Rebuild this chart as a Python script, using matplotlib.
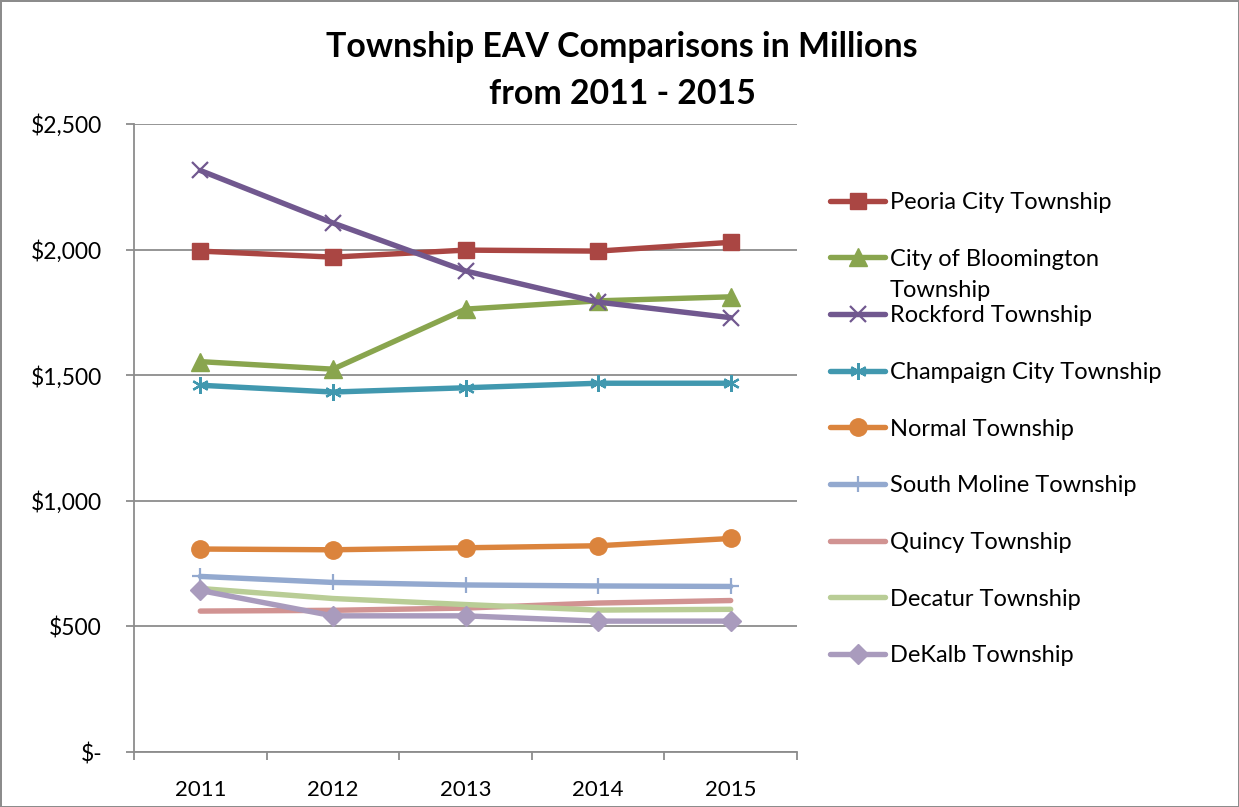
import numpy as np
import matplotlib
matplotlib.use("Agg")
import matplotlib.pyplot as plt
from matplotlib.ticker import FixedLocator, FuncFormatter

plt.rcParams['font.family'] = ['Lato', 'DejaVu Sans']

# Data (values in millions)
years = ['2011', '2012', '2013', '2014', '2015']
peoria = [1994, 1970, 1998, 1994, 2029]
bloomington = [1554, 1524, 1763, 1796, 1812]
rockford = [2315, 2106, 1915, 1791, 1729]
champaign = [1460, 1433, 1450, 1468, 1468]
normal = [808, 805, 813, 821, 850]
south_moline = [699, 675, 665, 661, 659]
quincy = [561, 564, 573, 593, 603]
decatur = [651, 611, 587, 565, 568]
dekalb = [643, 542, 542, 521, 521]

series = [
    ('Peoria City Township', peoria, '#AA4643', 's', 12),
    ('City of Bloomington', bloomington, '#89A54E', '^', 13),
    ('Rockford Township', rockford, '#71588F', 'x', 11),
    ('Champaign City Township', champaign, '#4198AF', (6, 2, 0), 12),
    ('Normal Township', normal, '#DB843D', 'o', 12.5),
    ('South Moline Township', south_moline, '#93A9CF', '+', 12),
    ('Quincy Township', quincy, '#D19392', None, 0),
    ('Decatur Township', decatur, '#B9CD96', None, 0),
    ('DeKalb Township', dekalb, '#A99BBD', 'D', 10),
]

fig = plt.figure(figsize=(12.39, 8.07), dpi=100)
fig.patch.set_edgecolor('#8c8c8c')
fig.patch.set_linewidth(2)
ax = fig.add_axes([134 / 1239, 1 - 752 / 807, (797 - 134) / 1239, (752 - 124) / 807])

x = np.arange(len(years))
for label, vals, color, marker, ms in series:
    kw = dict(color=color, lw=3.9, label=label, solid_joinstyle='round',
              solid_capstyle='round')
    if marker is not None:
        kw.update(marker=marker, markersize=ms, markerfacecolor=color,
                  markeredgecolor=color)
        if marker in ('x', '+') or isinstance(marker, tuple):
            kw.update(markeredgewidth=1.6)
    ax.plot(x, vals, **kw)

ax.set_xlim(-0.5, len(years) - 0.5)
ax.set_ylim(0, 2500)
ax.yaxis.set_major_locator(FixedLocator(np.arange(0, 2501, 500)))
ax.yaxis.set_major_formatter(FuncFormatter(lambda v, p: '$-' if v == 0 else '${:,.0f}'.format(v)))
ax.grid(axis='y', color='#8c8c8c', lw=1.3)
ax.set_axisbelow(True)

ax.xaxis.set_major_locator(FixedLocator(np.arange(-0.5, len(years), 1.0)))
ax.xaxis.set_major_formatter(FuncFormatter(lambda v, p: ''))
ax.set_xticks(x, minor=True)
ax.set_xticklabels(years, minor=True)
ax.tick_params(axis='x', which='major', length=6, color='#8c8c8c', width=1.3)
ax.tick_params(axis='x', which='minor', length=0, pad=20, labelsize=16)
ax.tick_params(axis='y', length=6, color='#8c8c8c', width=1.3, labelsize=16.5, pad=17)

for s in ['top', 'right']:
    ax.spines[s].set_visible(False)
for s in ['left', 'bottom']:
    ax.spines[s].set_color('#8c8c8c')
    ax.spines[s].set_linewidth(1.3)

fig.text(0.502, 1 - 47 / 807, 'Township EAV Comparisons in Millions', ha='center', va='center',
         fontsize=24.4, fontweight='bold')
fig.text(0.502, 1 - 94 / 807, 'from 2011 - 2015', ha='center', va='center',
         fontsize=24.4, fontweight='bold')

leg = fig.legend(loc='upper left', bbox_to_anchor=(830 / 1239, 1 - 192 / 807),
                 frameon=False, fontsize=17, labelspacing=1.51, handlelength=2.35,
                 handletextpad=0.17, borderaxespad=0, borderpad=0)

# wrapped second line of the Bloomington legend entry
fig.canvas.draw()
txt = leg.get_texts()[1]
bb = txt.get_window_extent(fig.canvas.get_renderer())
fx, fy = fig.transFigure.inverted().transform((bb.x0, bb.y0 - 31))
fig.text(fx, fy, 'Township', fontsize=17, ha='left', va='bottom')

fig.savefig('out.png', dpi=100)
